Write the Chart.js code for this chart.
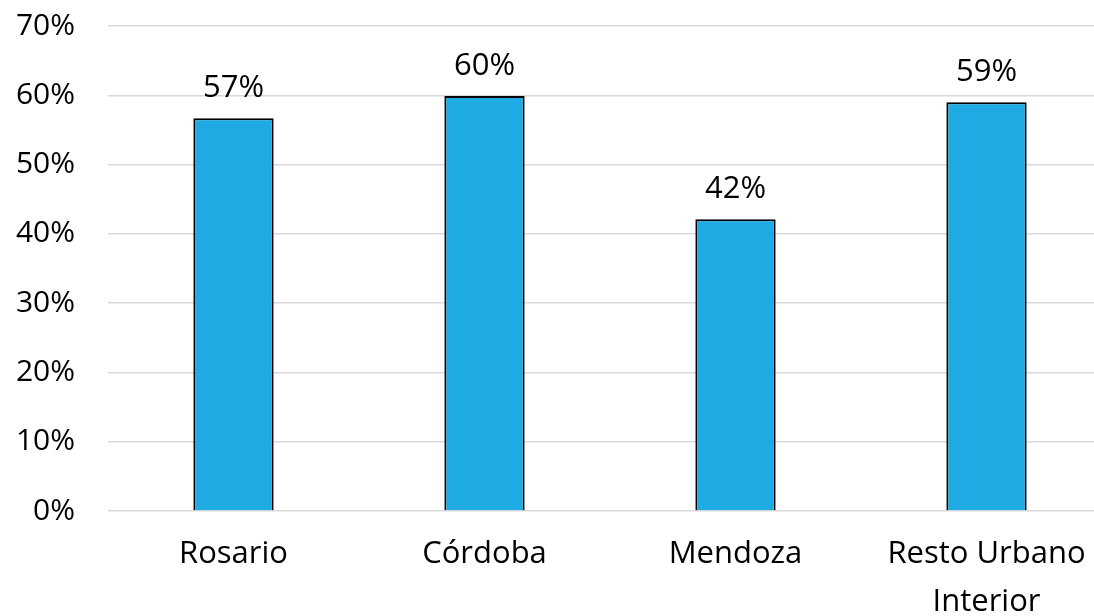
<!DOCTYPE html>
<html>
<head>
<meta charset="utf-8">
<script src="https://cdn.jsdelivr.net/npm/chart.js@4"></script>
<style>
  html, body { margin: 0; padding: 0; background: #fff; overflow: hidden; }
  #wrap { width: 1094px; height: 616px; overflow: hidden; }
  #wrap div { width: 1112px; height: 616px; position: relative; }
</style>
</head>
<body>
<div id="wrap"><div><canvas id="grafico"></canvas></div></div>
<script>
// datos
const categorias = ['Rosario', 'Córdoba', 'Mendoza', ['Resto Urbano', 'Interior']];
const valores = [0.567, 0.599, 0.421, 0.59];
const ticksY = [0, 0.1, 0.2, 0.3, 0.4, 0.5, 0.6, 0.7];

const fuente = "'Open Sans', sans-serif";

// etiquetas de valor encima de cada barra
const etiquetas = {
    id: 'etiquetas',
    afterDatasetsDraw(chart) {
        const ctx = chart.ctx;
        const meta = chart.getDatasetMeta(0);
        ctx.save();
        ctx.font = '31px ' + fuente;
        ctx.fillStyle = '#000';
        ctx.textAlign = 'center';
        ctx.textBaseline = 'alphabetic';
        meta.data.forEach((barra, i) => {
            ctx.fillText(Math.round(valores[i] * 100) + '%', barra.x, barra.y - 21);
        });
        ctx.restore();
    }
};

new Chart(document.getElementById('grafico'), {
    type: 'bar',
    data: {
        labels: categorias,
        datasets: [{
            data: valores,
            backgroundColor: '#1EABE3',
            borderColor: '#000',
            borderWidth: 2,
            barPercentage: 0.32,
            categoryPercentage: 1
        }]
    },
    options: {
        responsive: true,
        maintainAspectRatio: false,
        animation: false,
        layout: { padding: { top: 26, left: 0, right: 0, bottom: 0 } },
        plugins: { legend: { display: false }, tooltip: { enabled: false } },
        scales: {
            y: {
                min: 0,
                max: 0.7,
                afterBuildTicks: scale => { scale.ticks = ticksY.map(v => ({ value: v })); },
                afterFit: scale => {
                    scale.width = 108;
                    scale.paddingTop = 0;
                    scale.paddingBottom = 0;
                },
                border: { display: false },
                grid: { color: '#d9d9d9', lineWidth: 1.5, drawTicks: false },
                ticks: {
                    padding: 33,
                    color: '#000',
                    font: { family: fuente, size: 30 },
                    callback: v => Math.round(v * 100) + '%'
                }
            },
            x: {
                afterFit: scale => { scale.height = 105; },
                border: { display: false },
                grid: { display: false, drawTicks: false },
                ticks: {
                    padding: 20,
                    color: '#000',
                    font: { family: fuente, size: 31, lineHeight: 1.52 }
                }
            }
        }
    },
    plugins: [etiquetas]
});
</script>
</body>
</html>
